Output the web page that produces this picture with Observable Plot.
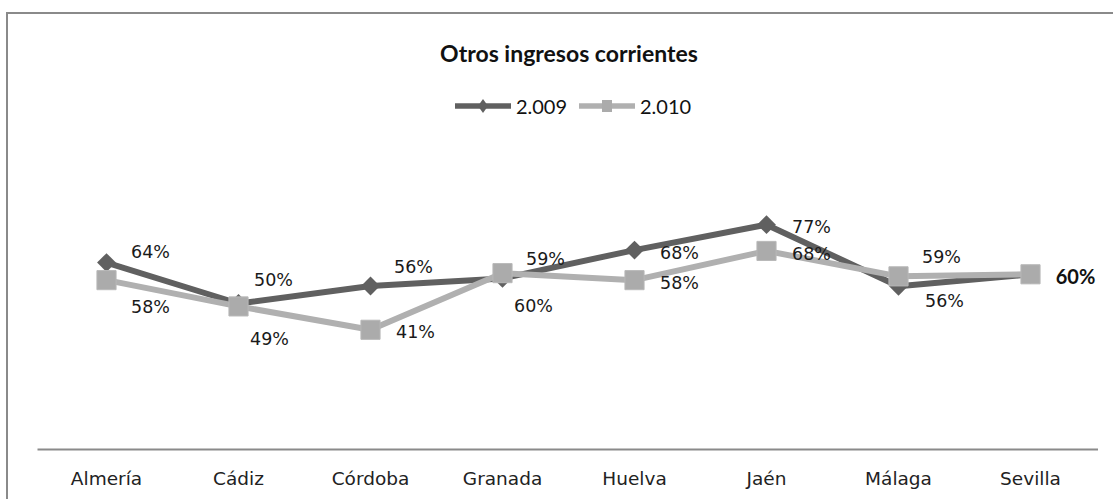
<!DOCTYPE html>
<html>
<head>
<meta charset="utf-8">
<script src="https://cdn.jsdelivr.net/npm/d3@7"></script>
<script src="https://cdn.jsdelivr.net/npm/@observablehq/plot@0.6"></script>
<style>
  body { margin: 0; background: #fff; }
  #wrap { position: relative; width: 1113px; height: 499px; overflow: hidden; background: #fff; }
  #chart { position: absolute; left: 0; top: 0; }
  #frame { position: absolute; left: 6px; top: 12px; width: 1300px; height: 700px;
           border-top: 2px solid #8a8a8a; border-left: 2px solid #8a8a8a; pointer-events: none; }
  #title { position: absolute; left: 0; width: 1138px; top: 39px; text-align: center;
           font: bold 23px Lato, sans-serif; color: #111; line-height: 28px; }
  #legend { position: absolute; left: 0; width: 1146px; top: 93px; height: 26px;
            display: flex; justify-content: center; align-items: center;
            font: 20px Lato, sans-serif; color: #111; }
  #legend .item { display: flex; align-items: center; margin: 0 6px; }
  #legend svg { margin-right: 5px; }
</style>
</head>
<body>
<div id="wrap">
  <div id="chart"></div>
  <div id="frame"></div>
  <div id="title"></div>
  <div id="legend"></div>
</div>
<script>
// ---- data ----
const title = "Otros ingresos corrientes";
const categories = ["Almería", "Cádiz", "Córdoba", "Granada", "Huelva", "Jaén", "Málaga", "Sevilla"];
const seriesNames = ["2.009", "2.010"];
const values2009 = [0.64, 0.50, 0.56, 0.586, 0.683, 0.77, 0.559, 0.60];
const values2010 = [0.58, 0.49, 0.41, 0.604, 0.58, 0.68, 0.593, 0.60];
// label placement keywords (null = label not shown)
const place2009 = ["ene", "nne", "ne", "ne", "e", "e", "ese", "e"];
const place2010 = ["se", "sse", "e", "sse", "e", "e", "ne", null];
const emphasizedCategory = "Sevilla";

// ---- styles ----
const colors = {"2.009": "#606060", "2.010": "#b0b0b0"};
const markerFill = {"2.009": "#606060", "2.010": "#ababab"};
const offsets = {
  e: [45, 3], ene: [44, -10], ne: [43, -19], nne: [35, -23],
  ese: [46, 15], se: [44, 27], sse: [31, 33]
};

const rows2009 = categories.map((c, i) => ({cat: c, serie: seriesNames[0], v: values2009[i], pos: place2009[i]}));
const rows2010 = categories.map((c, i) => ({cat: c, serie: seriesNames[1], v: values2010[i], pos: place2010[i]}));
const allRows = rows2009.concat(rows2010);
const fmt = d3.format(".0%");

const labelMarks = Object.entries(offsets).map(([k, [dx, dy]]) =>
  Plot.text(allRows.filter(d => d.pos === k && d.cat !== emphasizedCategory), {
    x: "cat", y: "v", text: d => fmt(d.v), dx, dy,
    fill: "#1a1a1a", fontSize: 17.5, fontFamily: "DejaVu Sans"
  })
);
const emphMarks = Object.entries(offsets).map(([k, [dx, dy]]) =>
  Plot.text(allRows.filter(d => d.pos === k && d.cat === emphasizedCategory), {
    x: "cat", y: "v", text: d => fmt(d.v), dx, dy,
    fill: "#111", fontSize: 20, fontWeight: "bold", fontFamily: "Lato"
  })
);

const chart = Plot.plot({
  width: 1113,
  height: 499,
  marginLeft: 37.5,
  marginRight: 15,
  marginTop: 157,
  marginBottom: 50,
  style: {background: "transparent", fontFamily: "DejaVu Sans", fontSize: "17.5px", color: "#222"},
  x: {type: "point", domain: categories, padding: 0.5, label: null},
  y: {domain: [0, 1], axis: null},
  marks: [
    Plot.ruleY([0], {stroke: "#8a8a8a", strokeWidth: 2}),
    Plot.axisX({tickSize: 0, tickPadding: 22, fontSize: 18.5, fontFamily: "DejaVu Sans", fill: "#222", label: null}),
    Plot.line(rows2009, {x: "cat", y: "v", stroke: colors["2.009"], strokeWidth: 6}),
    Plot.dot(rows2009, {x: "cat", y: "v", symbol: "diamond2", r: 8.5, fill: markerFill["2.009"], stroke: null}),
    Plot.line(rows2010, {x: "cat", y: "v", stroke: colors["2.010"], strokeWidth: 6}),
    Plot.dot(rows2010, {x: "cat", y: "v", symbol: "square", r: 10.8, fill: markerFill["2.010"], stroke: "#b9b9b9", strokeWidth: 1}),
    ...labelMarks,
    ...emphMarks
  ]
});
document.getElementById("chart").appendChild(chart);

document.getElementById("title").textContent = title;

// legend
const legend = document.getElementById("legend");
seriesNames.forEach(name => {
  const item = document.createElement("div");
  item.className = "item";
  const ns = "http://www.w3.org/2000/svg";
  const svg = document.createElementNS(ns, "svg");
  svg.setAttribute("width", 56); svg.setAttribute("height", 22);
  const line = document.createElementNS(ns, "line");
  line.setAttribute("x1", 0); line.setAttribute("x2", 56);
  line.setAttribute("y1", 11); line.setAttribute("y2", 11);
  line.setAttribute("stroke", colors[name]); line.setAttribute("stroke-width", 5.5);
  svg.appendChild(line);
  const m = document.createElementNS(ns, "path");
  if (name === seriesNames[0]) {
    m.setAttribute("d", "M28,4 L33,11 L28,18 L23,11 Z");
  } else {
    m.setAttribute("d", "M23,5 H33 V17 H23 Z");
  }
  m.setAttribute("fill", markerFill[name]);
  svg.appendChild(m);
  item.appendChild(svg);
  const t = document.createElement("span");
  t.textContent = name;
  item.appendChild(t);
  legend.appendChild(item);
});
</script>
</body>
</html>
